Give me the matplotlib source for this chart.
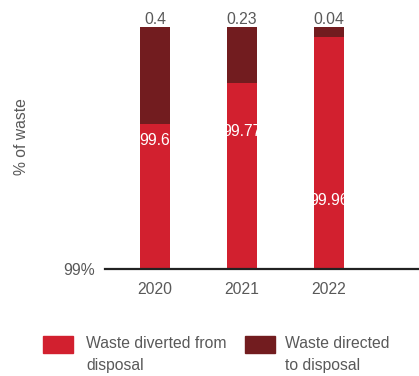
import matplotlib
matplotlib.use("Agg")
import matplotlib.pyplot as plt
from matplotlib.patches import Rectangle

# Share of waste (%) by year
years = ["2020", "2021", "2022"]
diverted = [99.6, 99.77, 99.96]
directed = [0.4, 0.23, 0.04]
series_names = ["Waste diverted from\ndisposal", "Waste directed\nto disposal"]

# vertical position of the in-bar value labels (data units)
inner_label_y = [99.53, 99.57, 99.285]

RED = "#D2202F"
DARK = "#721C1F"
GREY = "#595959"

plt.rcParams["font.family"] = ["Liberation Sans", "DejaVu Sans"]
FS = 11.3

W, H = 419, 376
fig = plt.figure(figsize=(W / 100, H / 100), dpi=100)
ax = fig.add_axes([105 / W, (H - 269) / H, 314 / W, 242 / H])

base = 99.0
x = list(range(len(years)))
width = 0.345
ax.bar(x, [d - base for d in diverted], bottom=base, width=width, color=RED, zorder=2)
ax.bar(x, directed, bottom=diverted, width=width, color=DARK, zorder=2)

for xi, d, t, ly in zip(x, diverted, directed, inner_label_y):
    ax.text(xi, d + t + 0.002, f"{t:g}", ha="center", va="bottom", color=GREY,
            fontsize=FS, family=["Liberation Sans Narrow", "Liberation Sans"])
    ax.text(xi, ly, f"{d:g}", ha="center", va="center", color="white",
            fontsize=FS, family=["Liberation Sans Narrow", "Liberation Sans"])

ax.set_ylim(base, 100)
ax.set_xlim(-0.575, 3.034)
ax.set_xticks(x)
ax.set_xticklabels(years)
ax.set_yticks([base])
ax.set_yticklabels(["99%"])
ax.tick_params(axis="both", length=0, labelsize=FS, colors=GREY)
ax.tick_params(axis="x", pad=9)
ax.tick_params(axis="y", pad=7)
for s in ["top", "right", "left"]:
    ax.spines[s].set_visible(False)
ax.spines["bottom"].set_color("#222222")
ax.spines["bottom"].set_linewidth(1.6)
ax.spines["bottom"].set_zorder(3)

fig.text(22 / W, 1 - 137 / H, "% of waste", rotation=90, ha="center", va="center",
         color=GREY, fontsize=FS)

# legend
for (px, tx), name, col in zip([(43, 86), (245, 285)], series_names, [RED, DARK]):
    fig.add_artist(Rectangle((px / W, 1 - 353 / H), 30 / W, 17 / H,
                             transform=fig.transFigure, color=col))
    fig.text(tx / W, 1 - 336 / H, name, ha="left", va="top", color=GREY,
             fontsize=FS, linespacing=1.6)

fig.savefig("out.png", dpi=100)
